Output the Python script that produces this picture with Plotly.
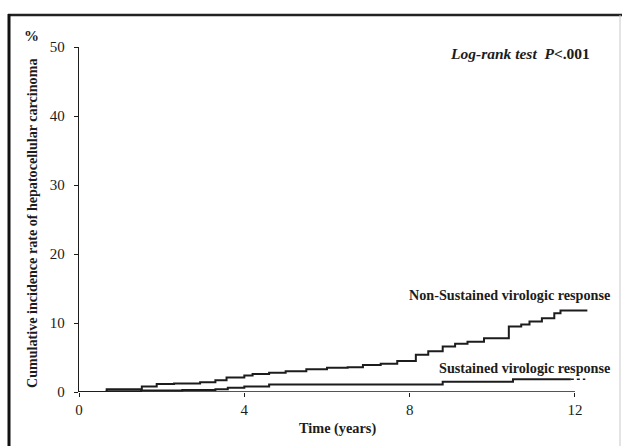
import plotly.graph_objects as go

# ---- data ----
nsvr_t = [0, 0.67, 1.52, 1.88, 2.3, 2.93, 3.3, 3.57, 4.0, 4.2, 4.6, 5.0, 5.5, 6.0, 6.5,
          6.87, 7.3, 7.7, 8.15, 8.45, 8.8, 9.1, 9.4, 9.8, 10.4, 10.7, 10.9, 11.2,
          11.5, 11.65, 12.3]
nsvr_v = [0, 0.4, 0.8, 1.16, 1.25, 1.4, 1.7, 2.1, 2.4, 2.6, 2.8, 3.0, 3.3, 3.5, 3.6,
          3.9, 4.1, 4.5, 5.4, 5.9, 6.6, 7.0, 7.3, 7.8, 9.5, 9.8, 10.2, 10.7,
          11.4, 11.8, 11.8]
svr_t = [0, 0.67, 1.5, 2.5, 3.3, 3.6, 4.0, 4.6, 8.8, 10.5, 11.9]
svr_v = [0, 0.1, 0.2, 0.3, 0.4, 0.6, 0.8, 1.1, 1.5, 1.84, 1.84]
svr_tail_t = [11.9, 12.25]
svr_tail_v = [1.84, 1.84]

x_ticks = [0, 4, 8, 12]
y_ticks = [0, 10, 20, 30, 40, 50]

FONT = "Liberation Serif"
INK = "#1c1c1c"

fig = go.Figure()
fig.add_trace(go.Scatter(x=nsvr_t, y=nsvr_v, mode="lines", line_shape="hv",
                         line=dict(color=INK, width=2), showlegend=False, hoverinfo="skip"))
fig.add_trace(go.Scatter(x=svr_t, y=svr_v, mode="lines", line_shape="hv",
                         line=dict(color=INK, width=2), showlegend=False, hoverinfo="skip"))
fig.add_trace(go.Scatter(x=svr_tail_t, y=svr_tail_v, mode="lines",
                         line=dict(color=INK, width=1.5, dash="3px,3px"),
                         showlegend=False, hoverinfo="skip"))

x_right = (610 - 79) / 41.33

fig.update_layout(
    width=622, height=446,
    margin=dict(l=79, r=12, t=47, b=54),
    paper_bgcolor="white", plot_bgcolor="white",
    font=dict(family=FONT, color=INK, size=14),
    xaxis=dict(range=[0, x_right], tickvals=x_ticks, ticktext=[str(v) for v in x_ticks],
               ticks="outside", ticklen=4, tickwidth=1.2, tickcolor=INK,
               showline=False, showgrid=False, zeroline=False,
               tickfont=dict(family=FONT, size=15, color=INK)),
    yaxis=dict(range=[0, 50], tickvals=y_ticks, ticktext=[str(v) for v in y_ticks],
               ticks="outside", ticklen=4, tickwidth=1.2, tickcolor=INK,
               showline=True, linecolor=INK, linewidth=1.3,
               showgrid=False, zeroline=False, ticklabelstandoff=6,
               tickfont=dict(family=FONT, size=15, color=INK)),
    showlegend=False,
)

# x axis line (only from 0 to 12)
fig.add_shape(type="line", xref="x", yref="y", x0=0, x1=12, y0=0, y1=0,
              line=dict(color=INK, width=1.3))

# frame
def px_x(p):
    return (p - 79) / 531.0

def px_y(p):
    return (392 - p) / 345.0

fig.add_shape(type="line", xref="paper", yref="paper", x0=px_x(8), x1=px_x(623),
              y0=px_y(15), y1=px_y(15), line=dict(color="#222", width=2.5))
fig.add_shape(type="line", xref="paper", yref="paper", x0=px_x(9), x1=px_x(9),
              y0=px_y(14), y1=px_y(450), line=dict(color="#111", width=3))
fig.add_shape(type="line", xref="paper", yref="paper", x0=px_x(620), x1=px_x(620),
              y0=px_y(15), y1=px_y(450), line=dict(color="#c8c8c8", width=1))

ann = [
    dict(text="<b>%</b>", x=px_x(31), y=px_y(36), xanchor="center", yanchor="middle",
         font=dict(size=15)),
    dict(text="<b>Cumulative incidence rate of hepatocellular carcinoma</b>",
         x=px_x(32), y=px_y(224), xanchor="center", yanchor="middle", textangle=-90,
         font=dict(size=14.1)),
    dict(text="<b><i>Log-rank test</i>&nbsp;&nbsp;<i>P</i>&lt;.001</b>",
         x=px_x(592), y=px_y(54), xanchor="right", yanchor="middle", font=dict(size=15.5)),
    dict(text="<b>Non-Sustained virologic response</b>", x=px_x(612), y=px_y(295),
         xanchor="right", yanchor="middle", font=dict(size=14.2)),
    dict(text="<b>Sustained virologic response</b>", x=px_x(612), y=px_y(368),
         xanchor="right", yanchor="middle", font=dict(size=14.2)),
    dict(text="<b>Time (years)</b>", x=px_x(337), y=px_y(428),
         xanchor="center", yanchor="middle", font=dict(size=14.3)),
]
for a in ann:
    a.update(xref="paper", yref="paper", showarrow=False)
    a["font"] = dict(family=FONT, color=INK, **a["font"])
    fig.add_annotation(**a)

fig.write_html("out.html", config={"displayModeBar": False},
               post_script="document.body.style.margin='0';document.body.style.overflow='hidden';")
